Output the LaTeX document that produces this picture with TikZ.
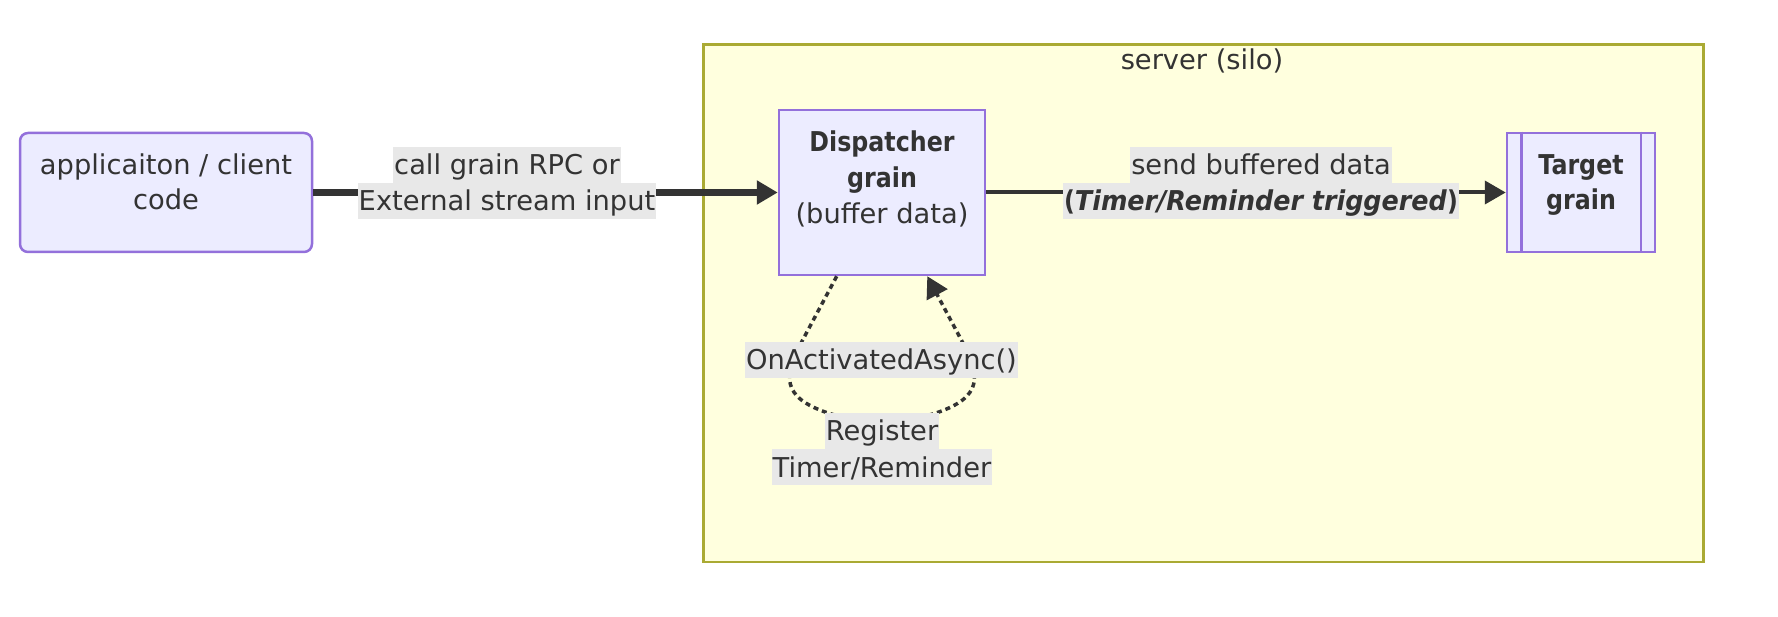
\documentclass[tikz,border=0pt]{standalone}
\usepackage{fontspec}
\setmainfont{DejaVu Sans}[BoldFeatures={FakeStretch=0.87},BoldItalicFeatures={FakeStretch=0.93}]
\usetikzlibrary{arrows.meta}
\definecolor{nodefill}{HTML}{ECECFF}
\definecolor{nodestroke}{HTML}{9370DB}
\definecolor{serverfill}{HTML}{FFFFDE}
\definecolor{serverstroke}{HTML}{AAAA33}
\definecolor{labelbg}{HTML}{E8E8E8}
\definecolor{textc}{HTML}{333333}
\definecolor{linec}{HTML}{333333}
\tikzset{
  txt/.style={font=\fontsize{27.3pt}{36pt}\selectfont, text=textc, inner sep=0pt, anchor=base},
  elabel/.style={txt, fill=labelbg, text height=28pt, text depth=8pt, inner xsep=1pt},
  grainbox/.style={draw=nodestroke, fill=nodefill, line width=2.5pt, inner sep=0pt},
  serverbox/.style={draw=serverstroke, fill=serverfill, line width=2.5pt, inner sep=0pt},
  tip/.style={-{Triangle[length=21pt,width=23pt]}},
  thickedge/.style={tip, draw=linec, line width=7pt},
  thinedge/.style={tip, draw=linec, line width=4pt},
  dottededge/.style={tip, draw=linec, line width=3.5pt, dash pattern=on 5pt off 4pt}
}
\begin{document}
\begin{tikzpicture}[x=1pt,y=-1pt]
\useasboundingbox (0,0) rectangle (1778,617);
% server cluster
\node[serverbox, minimum width=1000pt, minimum height=517pt, anchor=north west] (server) at (702,43.5) {};
\node[txt] (title) at (1202,70) {server (silo)};
% nodes
\node[grainbox, rounded corners=8pt, minimum width=292pt, minimum height=119pt] (client) at (166,192.5) {};
\node[grainbox, minimum width=206pt, minimum height=165pt] (disp) at (882,192.5) {};
\node[grainbox, minimum width=148pt, minimum height=119pt] (target) at (1581,192.5) {};
\draw[draw=nodestroke, line width=2.5pt] ([xshift=15.5pt]target.north west) -- ([xshift=15.5pt]target.south west);
\draw[draw=nodestroke, line width=2.5pt] ([xshift=-15.5pt]target.north east) -- ([xshift=-15.5pt]target.south east);
% node texts
\node[txt] (clientA) at (166,175) {applicaiton / client};
\node[txt] (clientB) at (166,210) {code};
\node[txt] (dispA) at (882,152) {\bfseries Dispatcher};
\node[txt] (dispB) at (882,188) {\bfseries grain};
\node[txt] (dispC) at (882,224) {(buffer data)};
\node[txt] (targetA) at (1581,175) {\bfseries Target};
\node[txt] (targetB) at (1581,210) {\bfseries grain};
% edges
\draw[thickedge] (client.east) -- (disp.west);
\draw[thinedge] (disp.east) -- (target.west);
\coordinate (loopS) at ([xshift=-45.3pt]disp.south);
\coordinate (loopE) at ([xshift=45.3pt]disp.south);
\draw[dottededge] (loopS) -- (800,345) .. controls (785,375) and (780,397) .. (828,413)
  .. controls (858,423) and (906,423) .. (936,413)
  .. controls (984,397) and (979,375) .. (964,345) -- (loopE);
% edge labels
\node[elabel] (lab1a) at (507,175) {call grain RPC or};
\node[elabel] (lab1b) at (507,211) {External stream input};
\node[elabel] (lab2a) at (1261,175) {send buffered data};
\node[elabel] (lab2b) at (1261,211) {\textbf{(\textit{Timer/Reminder triggered})}};
\node[elabel] (lab3) at (881.5,370) {OnActivatedAsync()};
\node[elabel] (lab4a) at (882,441) {Register};
\node[elabel] (lab4b) at (882,477) {Timer/Reminder};
\end{tikzpicture}
\end{document}
